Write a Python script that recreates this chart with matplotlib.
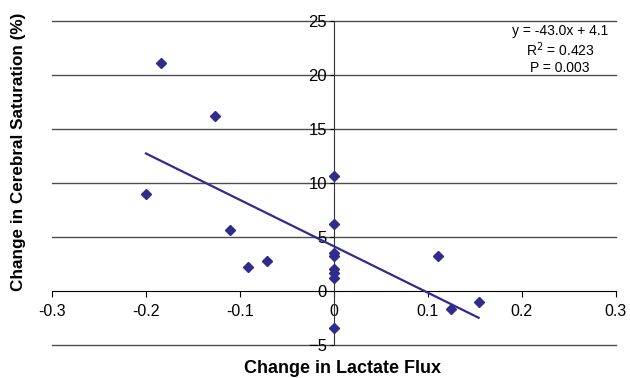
"""Change in cerebral saturation vs change in lactate flux, with linear fit."""

import numpy as np
import matplotlib.pyplot as plt

plt.rcParams.update({
    "font.family": ["Liberation Sans", "DejaVu Sans"],
    "font.size": 11,
})

# data
lactate_flux = [-0.184, -0.126, -0.200, -0.111, -0.091, -0.071,
                0.0, 0.0, 0.0, 0.0, 0.0, 0.0, 0.0, 0.0,
                0.111, 0.125, 0.154]
cerebral_sat = [21.1, 16.2, 8.9, 5.6, 2.2, 2.7,
                10.6, 6.2, 3.5, 3.2, 2.0, 1.6, 1.2, -3.5,
                3.2, -1.7, -1.1]

fit_slope = -43.0
fit_intercept = 4.1
fit_range = [-0.2, 0.154]
fit_text = ["y = -43.0x + 4.1", "R$^2$ = 0.423", "P = 0.003"]

x_ticks = [-0.3, -0.2, -0.1, 0, 0.1, 0.2, 0.3]
x_labels = ["-0.3", "-0.2", "-0.1", "0", "0.1", "0.2", "0.3"]
y_ticks = [-5, 0, 5, 10, 15, 20, 25]

COLOR = "#2F2C8E"

fig = plt.figure(figsize=(6.3, 3.78), dpi=100)
ax = fig.add_axes([0.0825, 0.0886, 0.895, 0.8566])

# horizontal gridlines
for yv in y_ticks:
    if yv != 0:
        ax.axhline(yv, color="#4d4d4d", linewidth=1.0, zorder=1, clip_on=False)

ax.plot(lactate_flux, cerebral_sat, linestyle="none", marker="D",
        markersize=5, color=COLOR, zorder=4, clip_on=False)

fx = np.array(fit_range)
ax.plot(fx, fit_slope * fx + fit_intercept, color=COLOR, linewidth=1.6, zorder=3)

ax.set_xlim(-0.3, 0.3)
ax.set_ylim(-5, 25)

ax.spines["top"].set_visible(False)
ax.spines["right"].set_visible(False)
ax.spines["left"].set_position(("data", 0))
ax.spines["bottom"].set_position(("data", 0))
ax.spines["left"].set_color("#333333")
ax.spines["bottom"].set_color("black")
ax.spines["left"].set_zorder(2)

ax.set_xticks(x_ticks)
ax.set_xticklabels(x_labels)
ax.set_yticks(y_ticks)
ax.tick_params(axis="x", direction="out", length=4, pad=6, labelsize=11.5)
ax.tick_params(axis="y", direction="out", length=3, pad=2, labelsize=12)

for i, line in enumerate(fit_text):
    ax.text(0.2405, 24.05 - i * 1.7, line, ha="center", va="center", fontsize=10)

fig.text(0.543, 0.025, "Change in Lactate Flux", ha="center", va="center",
         fontsize=13, fontweight="bold")
fig.text(0.03, 0.598, "Change in Cerebral Saturation (%)", ha="center",
         va="center", rotation=90, fontsize=12.3, fontweight="bold")

fig.savefig("out.png", dpi=100)
